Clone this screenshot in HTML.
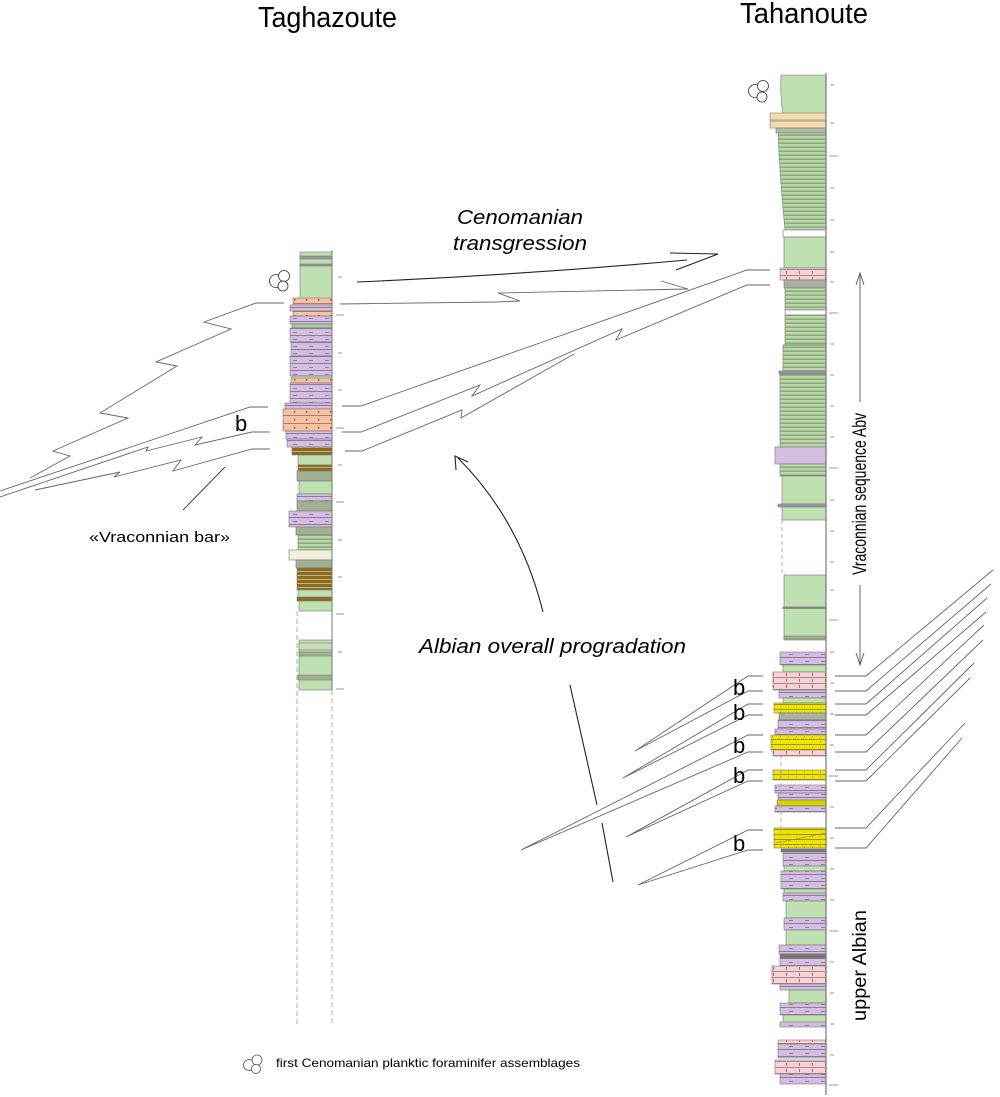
<!DOCTYPE html>
<html><head><meta charset="utf-8"><style>
html,body{margin:0;padding:0;background:#fff;}
svg{display:block;}
text{font-family:"Liberation Sans",Arial,sans-serif;fill:#000;}
</style></head><body>
<svg width="1000" height="1097" viewBox="0 0 1000 1097" xmlns="http://www.w3.org/2000/svg">
<defs>
<pattern id="str" width="4" height="4" patternUnits="userSpaceOnUse"><rect width="4" height="4" fill="#b8d8a6"/><rect y="2.5" width="4" height="1.3" fill="#86a07c"/></pattern>
<pattern id="pur" width="16" height="7" patternUnits="userSpaceOnUse"><rect width="16" height="7" fill="#d3bde0"/><rect y="6" width="16" height="1" fill="#8e7b99"/><rect x="5" y="3" width="4" height="1" fill="#8e7b99"/></pattern>
<pattern id="sal" width="12" height="8" patternUnits="userSpaceOnUse"><rect width="12" height="8" fill="#f6c2a2"/><rect y="7" width="12" height="1" fill="#a08070"/><rect x="6" y="3" width="1.5" height="1.5" fill="#e03030"/></pattern>
<pattern id="pnk" width="13" height="6" patternUnits="userSpaceOnUse"><rect width="13" height="6" fill="#f6d3d6"/><rect y="5" width="13" height="1" fill="#a08a8c"/><rect x="6" y="1" width="1" height="3" fill="#e05050"/></pattern>
<pattern id="yel" width="8" height="5" patternUnits="userSpaceOnUse"><rect width="8" height="5" fill="#f2e600"/><rect y="4" width="8" height="1" fill="#9a9000"/><rect x="4" y="1.5" width="1" height="1" fill="#a09000"/></pattern>
<pattern id="brn" width="4" height="4" patternUnits="userSpaceOnUse"><rect width="4" height="4" fill="#8b6b22"/><rect y="3" width="4" height="1" fill="#c9b27a"/></pattern>
</defs>

<!-- titles -->
<text x="258" y="27" font-size="29" textLength="139" lengthAdjust="spacingAndGlyphs">Taghazoute</text>
<text x="740" y="23" font-size="29" textLength="128" lengthAdjust="spacingAndGlyphs">Tahanoute</text>

<!-- ============ Taghazoute column ============ -->
<g stroke="#777" stroke-width="0.6">
<rect x="300" y="252" width="32" height="48" fill="#bfe0b0"/>
<rect x="300" y="256" width="32" height="3" fill="#999"/>
<rect x="300" y="264" width="32" height="2" fill="#999"/>
<rect x="293" y="298" width="39" height="7" fill="url(#sal)"/>
<rect x="290" y="305" width="42" height="6" fill="url(#pur)"/>
<rect x="293" y="311" width="39" height="5" fill="url(#sal)"/>
<rect x="290" y="316" width="42" height="8" fill="url(#pur)"/>
<rect x="292" y="324" width="40" height="4" fill="#a8c89a"/>
<rect x="290" y="328" width="42" height="14" fill="url(#pur)"/>
<rect x="291" y="342" width="41" height="14" fill="url(#pur)"/>
<rect x="290" y="356" width="42" height="20" fill="url(#pur)"/>
<rect x="292" y="376" width="40" height="4" fill="#bfe0b0"/>
<rect x="291" y="378" width="41" height="5" fill="url(#sal)"/>
<rect x="290" y="383" width="42" height="20" fill="url(#pur)"/>
<rect x="285" y="403" width="47" height="6" fill="url(#pur)"/>
<rect x="283" y="409" width="49" height="22" fill="url(#sal)"/>
<rect x="286" y="431" width="46" height="8" fill="url(#pur)"/>
<rect x="287" y="439" width="45" height="8" fill="url(#pur)"/>
<rect x="292" y="447" width="40" height="8" fill="url(#brn)"/>
<rect x="298" y="455" width="34" height="10" fill="#bfe0b0"/>
<rect x="298" y="465" width="34" height="6" fill="url(#brn)"/>
<rect x="297" y="471" width="35" height="10" fill="#a0b090"/>
<rect x="299" y="481" width="33" height="13" fill="#bfe0b0"/>
<rect x="297" y="494" width="35" height="7" fill="url(#pur)"/>
<rect x="297" y="501" width="35" height="10" fill="#a0b090"/>
<rect x="289" y="511" width="43" height="16" fill="url(#pur)"/>
<rect x="296" y="527" width="36" height="8" fill="#a0b090"/>
<rect x="298" y="535" width="34" height="15" fill="url(#str)"/>
<rect x="289" y="550" width="43" height="10" fill="#f2eedc"/>
<rect x="296" y="560" width="36" height="8" fill="#a0b090"/>
<rect x="297" y="568" width="35" height="22" fill="url(#brn)"/>
<rect x="298" y="590" width="34" height="8" fill="#bfe0b0"/>
<rect x="297" y="597" width="35" height="4" fill="#8b6b22"/>
<rect x="299" y="601" width="33" height="10" fill="#bfe0b0"/>
<rect x="299" y="640" width="33" height="50" fill="#bfe0b0"/>
<rect x="299" y="643" width="33" height="7" fill="#c8dcb8"/>
<rect x="299" y="652" width="33" height="4" fill="#a0b090"/>
<rect x="298" y="675" width="34" height="5" fill="#a0b090"/>
</g>
<line x1="332" y1="250" x2="332" y2="690" stroke="#777" stroke-width="1"/>
<line x1="332" y1="690" x2="332" y2="1025" stroke="#999" stroke-width="0.8" stroke-dasharray="5,3"/>
<line x1="297" y1="611" x2="297" y2="1025" stroke="#999" stroke-width="0.8" stroke-dasharray="5,3"/>
<g stroke="#999" stroke-width="1">
<line x1="338" y1="277" x2="342" y2="277"/><line x1="336" y1="315" x2="344" y2="315"/><line x1="338" y1="353" x2="342" y2="353"/>
<line x1="338" y1="390" x2="342" y2="390"/><line x1="336" y1="428" x2="344" y2="428"/><line x1="338" y1="465" x2="342" y2="465"/>
<line x1="336" y1="502" x2="344" y2="502"/><line x1="338" y1="540" x2="342" y2="540"/><line x1="338" y1="577" x2="342" y2="577"/>
<line x1="336" y1="614" x2="344" y2="614"/><line x1="338" y1="652" x2="342" y2="652"/><line x1="336" y1="689" x2="344" y2="689"/>
</g>
<g fill="#fff" stroke="#333" stroke-width="0.8"><circle cx="276" cy="281" r="6.5"/><circle cx="284" cy="276" r="5.5"/><circle cx="283" cy="286" r="5"/></g>

<!-- ============ Tahanoute column ============ -->
<g stroke="#777" stroke-width="0.6">
<path d="M781,75 L826,75 L826,115 L783,115 Q780,95 781,75Z" fill="#bfe0b0"/>
<rect x="770" y="113" width="56" height="7" fill="#f5dcaa"/>
<rect x="770" y="121" width="56" height="7" fill="#f5dcaa"/>
<rect x="776" y="128" width="50" height="5" fill="#b0b8a8"/>
<path d="M778,133 L826,133 L826,230 L785,230 Q780,180 778,133Z" fill="url(#str)"/>
<rect x="783" y="230" width="43" height="7" fill="#fff"/>
<rect x="784" y="237" width="42" height="31" fill="#bfe0b0"/>
<rect x="780" y="268" width="46" height="12" fill="url(#pnk)"/>
<rect x="784" y="280" width="42" height="8" fill="#a8b0a0"/>
<rect x="785" y="288" width="41" height="22" fill="url(#str)"/>
<rect x="785" y="310" width="41" height="5" fill="#fff"/>
<rect x="785" y="315" width="41" height="30" fill="url(#str)"/>
<rect x="783" y="345" width="43" height="26" fill="url(#str)"/>
<rect x="779" y="371" width="47" height="3" fill="#a090b0"/>
<rect x="780" y="374" width="46" height="73" fill="url(#str)"/>
<rect x="775" y="447" width="51" height="17" fill="#d3bde0"/>
<rect x="780" y="464" width="46" height="12" fill="url(#str)"/>
<rect x="782" y="476" width="44" height="28" fill="#bfe0b0"/>
<rect x="778" y="504" width="48" height="3" fill="#a090b0"/>
<rect x="782" y="507" width="44" height="13" fill="#bfe0b0"/>
<rect x="784" y="575" width="42" height="65" fill="#bfe0b0"/>
<rect x="783" y="607" width="43" height="1.5" fill="#888"/>
<rect x="784" y="636" width="42" height="3" fill="#a0b090"/>
<rect x="780" y="652" width="46" height="13" fill="url(#pur)"/>
<rect x="783" y="665" width="43" height="7" fill="#bfe0b0"/>
<rect x="773" y="672" width="53" height="18" fill="url(#pnk)"/>
<rect x="779" y="690" width="47" height="8" fill="url(#pur)"/>
<rect x="783" y="698" width="43" height="5" fill="#bfe0b0"/>
<rect x="774" y="703" width="52" height="10" fill="url(#yel)"/>
<rect x="779" y="713" width="47" height="7" fill="#a8b0a0"/>
<rect x="778" y="720" width="48" height="9" fill="url(#pur)"/>
<rect x="775" y="729" width="51" height="6" fill="url(#pur)"/>
<rect x="771" y="735" width="55" height="15" fill="url(#yel)"/>
<rect x="773" y="750" width="53" height="6" fill="url(#pnk)"/>
<rect x="773" y="770" width="53" height="10" fill="url(#yel)"/>
<rect x="775" y="785" width="51" height="8" fill="url(#pur)"/>
<rect x="778" y="793" width="48" height="7" fill="url(#pur)"/>
<rect x="777" y="800" width="49" height="6" fill="#d6d000"/>
<rect x="775" y="806" width="51" height="6" fill="url(#pur)"/>
<rect x="774" y="828" width="52" height="20" fill="url(#yel)"/>
<line x1="776" y1="843" x2="826" y2="833" stroke="#776"/>
<rect x="781" y="849" width="45" height="3" fill="#777"/>
<rect x="783" y="852" width="43" height="14" fill="url(#pur)"/>
<rect x="784" y="866" width="42" height="5" fill="#bfe0b0"/>
<rect x="781" y="871" width="45" height="18" fill="url(#pur)"/>
<rect x="784" y="889" width="42" height="4" fill="#bfe0b0"/>
<rect x="783" y="893" width="43" height="8" fill="url(#pur)"/>
<rect x="786" y="901" width="40" height="17" fill="#bfe0b0"/>
<rect x="784" y="918" width="42" height="12" fill="url(#pur)"/>
<rect x="786" y="930" width="40" height="15" fill="#bfe0b0"/>
<rect x="779" y="945" width="47" height="9" fill="url(#pur)"/>
<rect x="780" y="954" width="46" height="4" fill="#777"/>
<rect x="780" y="958" width="46" height="8" fill="url(#pur)"/>
<rect x="772" y="966" width="54" height="18" fill="url(#pnk)"/>
<rect x="780" y="984" width="46" height="6" fill="url(#pur)"/>
<rect x="789" y="990" width="37" height="13" fill="#bfe0b0"/>
<rect x="780" y="1003" width="46" height="12" fill="url(#pur)"/>
<rect x="783" y="1015" width="43" height="8" fill="#bfe0b0"/>
<rect x="780" y="1022" width="46" height="5" fill="url(#pur)"/>
<rect x="778" y="1040" width="48" height="4" fill="url(#pnk)"/>
<rect x="778" y="1044" width="48" height="14" fill="url(#pur)"/>
<rect x="775" y="1060" width="51" height="14" fill="url(#pnk)"/>
<rect x="780" y="1074" width="46" height="10" fill="url(#pur)"/>
</g>
<line x1="826" y1="73" x2="826" y2="1095" stroke="#777" stroke-width="1.2"/>
<line x1="782" y1="520" x2="782" y2="575" stroke="#999" stroke-width="0.8" stroke-dasharray="4,3"/>
<line x1="781" y1="755" x2="781" y2="828" stroke="#999" stroke-width="0.8" stroke-dasharray="4,3"/>
<g stroke="#999" stroke-width="1">
<line x1="830" y1="85" x2="834" y2="85"/><line x1="830" y1="123" x2="834" y2="123"/><line x1="829" y1="156" x2="838" y2="156"/>
<line x1="830" y1="188" x2="834" y2="188"/><line x1="830" y1="220" x2="834" y2="220"/><line x1="830" y1="252" x2="834" y2="252"/>
<line x1="830" y1="282" x2="834" y2="282"/><line x1="829" y1="313" x2="838" y2="313"/><line x1="830" y1="344" x2="834" y2="344"/>
<line x1="830" y1="375" x2="834" y2="375"/><line x1="830" y1="406" x2="834" y2="406"/><line x1="830" y1="437" x2="834" y2="437"/>
<line x1="829" y1="468" x2="838" y2="468"/><line x1="830" y1="500" x2="834" y2="500"/><line x1="830" y1="531" x2="834" y2="531"/>
<line x1="830" y1="562" x2="834" y2="562"/><line x1="830" y1="590" x2="834" y2="590"/><line x1="829" y1="620" x2="838" y2="620"/>
<line x1="830" y1="652" x2="834" y2="652"/><line x1="830" y1="683" x2="834" y2="683"/><line x1="830" y1="714" x2="834" y2="714"/>
<line x1="830" y1="745" x2="834" y2="745"/><line x1="829" y1="776" x2="838" y2="776"/><line x1="830" y1="807" x2="834" y2="807"/>
<line x1="830" y1="838" x2="834" y2="838"/><line x1="830" y1="869" x2="834" y2="869"/><line x1="830" y1="900" x2="834" y2="900"/>
<line x1="829" y1="931" x2="838" y2="931"/><line x1="830" y1="962" x2="834" y2="962"/><line x1="830" y1="993" x2="834" y2="993"/>
<line x1="830" y1="1024" x2="834" y2="1024"/><line x1="830" y1="1055" x2="834" y2="1055"/><line x1="829" y1="1085" x2="838" y2="1085"/>
</g>
<g fill="#fff" stroke="#333" stroke-width="0.8"><circle cx="755" cy="91" r="6.5"/><circle cx="763" cy="86" r="5.5"/><circle cx="762" cy="97" r="5"/></g>

<!-- ============ correlation lines ============ -->
<g fill="none" stroke="#666" stroke-width="0.9">
<polyline points="284,303 256,303 204,322 231,329 156,362 177,366 100,413 128,418 53,451 70,456 30,478"/>
<polyline points="268,407 250,407 0,491"/>
<polyline points="270,432 252,432 195,445 202,437 146,451 148,447 0,497"/>
<polyline points="270,449 252,449 173,471 181,460 114,477 120,472 35,490"/>
<line x1="225" y1="467" x2="183" y2="510" stroke="#333"/>
<polyline points="340,304 497,302 520,301 498,293 688,289 661,281"/>
<polyline points="342,406 361,406 747,270 770,270"/>
<polyline points="342,432 361,432 480,385 472,396 622,329 616,340 747,285 770,285"/>
<polyline points="345,451 362,451 462,410 461,418 574,354"/>
<polyline points="763,676 748,676 635,751 748,691 763,691"/>
<polyline points="763,704 748,704 623,778 748,715 763,715"/>
<polyline points="763,735 748,735 521,850 748,752 763,752"/>
<polyline points="763,770 748,770 626,837 748,781 763,781"/>
<polyline points="763,830 748,830 638,885 748,850 763,850"/>
<polyline points="835,676 866,676 993,570"/>
<polyline points="835,691 866,691 991,584"/>
<polyline points="835,704 866,704 987,598"/>
<polyline points="835,715 866,715 986,612"/>
<polyline points="835,735 866,735 984,625"/>
<polyline points="835,752 866,752 983,640"/>
<polyline points="835,770 866,770 974,663"/>
<polyline points="835,781 866,781 970,678"/>
<polyline points="835,828 866,828 965,723"/>
<polyline points="835,848 866,848 962,738"/>
</g>
<g fill="none" stroke="#222" stroke-width="1.1">
<path d="M357,282 Q520,275 687,260"/>
<polyline points="670,253 718,254 676,270"/>
<line x1="570" y1="685" x2="597" y2="805"/>
<line x1="602" y1="823" x2="613" y2="882"/>
<path d="M543,612 Q520,520 458,458"/>
<polyline points="456,470 455,456 468,462"/>
</g>
<g fill="none" stroke="#555" stroke-width="0.9">
<line x1="860" y1="273" x2="860" y2="402"/>
<polyline points="856,285 860,273 864,285"/>
<line x1="860" y1="585" x2="860" y2="665"/>
<polyline points="856,653 860,665 864,653"/>
</g>

<!-- labels -->
<text x="457" y="224" font-size="20" font-style="italic" textLength="126" lengthAdjust="spacingAndGlyphs">Cenomanian</text>
<text x="453" y="250" font-size="20" font-style="italic" textLength="134" lengthAdjust="spacingAndGlyphs">transgression</text>
<text x="419" y="653" font-size="20" font-style="italic" textLength="267" lengthAdjust="spacingAndGlyphs">Albian overall progradation</text>
<text x="235" y="431" font-size="22">b</text>
<text x="89" y="542" font-size="15" textLength="141" lengthAdjust="spacingAndGlyphs">«Vraconnian bar»</text>
<g font-size="22"><text x="733" y="695">b</text><text x="733" y="720">b</text><text x="733" y="753">b</text><text x="733" y="783">b</text><text x="733" y="851">b</text></g>
<text transform="translate(866,575) rotate(-90)" font-size="19" textLength="162" lengthAdjust="spacingAndGlyphs">Vraconnian sequence Abv</text>
<text transform="translate(866,1021) rotate(-90)" font-size="19" textLength="111" lengthAdjust="spacingAndGlyphs">upper Albian</text>
<g fill="#fff" stroke="#555" stroke-width="0.8"><circle cx="249" cy="1065" r="5.5"/><circle cx="257" cy="1060" r="5"/><circle cx="256" cy="1069" r="4.5"/></g>
<text x="276" y="1067" font-size="12" textLength="304" lengthAdjust="spacingAndGlyphs">first Cenomanian planktic foraminifer assemblages</text>
</svg>
</body></html>
